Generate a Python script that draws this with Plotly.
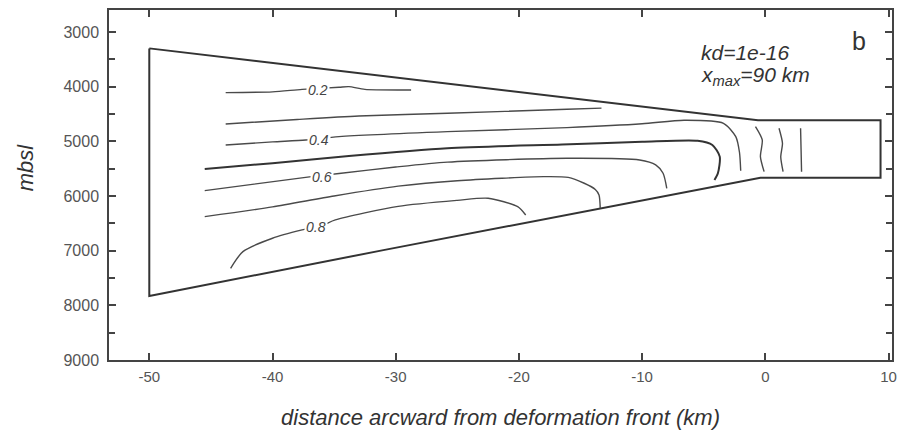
import plotly.graph_objects as go

# ---- data (km, metres below sea level) ----
boundary_x = [-50, -0.6, 9.35, 9.35, -0.4, -5.6, -13.4, -31.0, -50, -50]
boundary_y = [3300, 4615, 4615, 5665, 5665, 5890, 6220, 6990, 7830, 3300]

c02_x = [-43.8, -40.0, -37.6, -34.6, -33.8, -32.5, -28.75]
c02_y = [4110, 4095, 4050, 4012, 4000, 4050, 4060]

c03_x = [-43.8, -38.0, -33.0, -25.8, -16.1, -13.3]
c03_y = [4683, 4600, 4536, 4487, 4414, 4392]

c04_x = [-43.8, -40.0, -37.3, -34.6, -25.8, -16.1, -10.0, -6.6, -3.4, -2.4, -2.1, -2.0]
c04_y = [5067, 5010, 4975, 4915, 4823, 4750, 4680, 4615, 4670, 4915, 5200, 5540]

c05_x = [-45.5, -40.0, -33.8, -25.8, -16.5, -10.0, -5.5, -4.3, -3.7, -3.85, -4.13]
c05_y = [5506, 5400, 5268, 5127, 5058, 5010, 4990, 5067, 5280, 5584, 5707]

c06_x = [-45.5, -37.0, -34.6, -30.0, -25.8, -16.1, -10.2, -8.9, -8.3, -8.0]
c06_y = [5902, 5650, 5590, 5470, 5380, 5310, 5341, 5430, 5584, 5860]

c07_x = [-45.5, -40.0, -35.0, -29.8, -25.0, -18.0, -16.0, -14.7, -13.8, -13.5, -13.4]
c07_y = [6378, 6200, 6000, 5820, 5720, 5646, 5660, 5767, 5880, 5980, 6225]

c08_x = [-43.4, -42.4, -40.0, -37.6, -36.0, -34.9, -29.8, -25.0, -22.5, -20.1, -19.45]
c08_y = [7322, 7018, 6773, 6621, 6540, 6438, 6190, 6080, 6042, 6195, 6347]

v1_x = [-0.8, -0.25, -0.4, -0.1]
v1_y = [4730, 4975, 5280, 5555]
v2_x = [1.11, 1.39, 1.25, 1.44]
v2_y = [4762, 5036, 5281, 5555]
v3_x = [2.86, 2.90, 2.94]
v3_y = [4762, 5150, 5555]

label_text = ["0.2", "0.4", "0.6", "0.8"]
label_x = [-36.3, -36.25, -36.0, -36.45]
label_y = [4070, 4975, 5646, 6570]

x_ticks = [-50, -40, -30, -20, -10, 0, 10]
x_ticktext = ["-50", "-40", "-30", "-20", "-10", "0", "10"]
y_ticks = [3000, 4000, 5000, 6000, 7000, 8000, 9000]

FONT = "Liberation Sans, Arial, Helvetica, sans-serif"
fig = go.Figure()

def line(x, y, w=1.4, c="#4a4a4a", shape="spline"):
    fig.add_trace(go.Scatter(x=x, y=y, mode="lines",
                             line=dict(color=c, width=w, shape=shape, smoothing=0.7),
                             hoverinfo="skip", showlegend=False))

line(boundary_x, boundary_y, 2.0, "#333333", "linear")
for cx, cy in [(c02_x, c02_y), (c03_x, c03_y), (c04_x, c04_y), (c06_x, c06_y),
               (c07_x, c07_y), (c08_x, c08_y), (v1_x, v1_y), (v2_x, v2_y), (v3_x, v3_y)]:
    line(cx, cy)
line(c05_x, c05_y, 2.0, "#333333")

for t, x, y in zip(label_text, label_x, label_y):
    fig.add_annotation(x=x, y=y, text="<i>" + t + "</i>", showarrow=False,
                       font=dict(family=FONT, size=14, color="#444"),
                       bgcolor="white", borderpad=1)

fig.add_annotation(xref="x", yref="y", x=-5.4, y=3380, xanchor="left", yanchor="middle",
                   text="<i>kd=1e-16</i>", showarrow=False,
                   font=dict(family=FONT, size=21, color="#333"))
fig.add_annotation(xref="x", yref="y", x=-5.4, y=3800, xanchor="left", yanchor="middle",
                   text="<i>x<sub>max</sub>=90 km</i>", showarrow=False,
                   font=dict(family=FONT, size=21, color="#333"))
fig.add_annotation(xref="x", yref="y", x=7.6, y=3160, xanchor="center", yanchor="middle",
                   text="b", showarrow=False,
                   font=dict(family=FONT, size=25, color="#333"))
fig.add_annotation(xref="paper", yref="paper", x=-0.107, y=0.551, xanchor="center", yanchor="middle",
                   textangle=-90, text="<i>mbsl</i>", showarrow=False,
                   font=dict(family=FONT, size=22, color="#333"))

fig.update_layout(
    width=901, height=434,
    margin=dict(l=109, r=4, t=10, b=74),
    paper_bgcolor="white", plot_bgcolor="white",
    font=dict(family=FONT, color="#333"),
    xaxis=dict(range=[-53.27, 10.28], tickvals=x_ticks, ticktext=x_ticktext,
               ticks="inside", ticklen=7, tickwidth=1.5, tickcolor="#444",
               showline=True, linecolor="#444", linewidth=1.5, mirror="ticks",
               showgrid=False, zeroline=False, ticklabelstandoff=2,
               tickfont=dict(family=FONT, size=15, color="#555"),
               title=dict(text="<i>distance arcward from deformation front (km)</i>",
                          font=dict(family=FONT, size=22, color="#333"), standoff=26)),
    yaxis=dict(range=[9000, 2598], tickvals=y_ticks,
               ticks="inside", ticklen=7, tickwidth=1.5, tickcolor="#444",
               minor=dict(dtick=500, tick0=3000, ticks="inside", ticklen=6, tickcolor="#444"),
               showline=True, linecolor="#444", linewidth=1.5, mirror="ticks",
               showgrid=False, zeroline=False, ticklabelstandoff=5,
               tickfont=dict(family=FONT, size=16, color="#555")),
)

fig.write_html("out.html")
